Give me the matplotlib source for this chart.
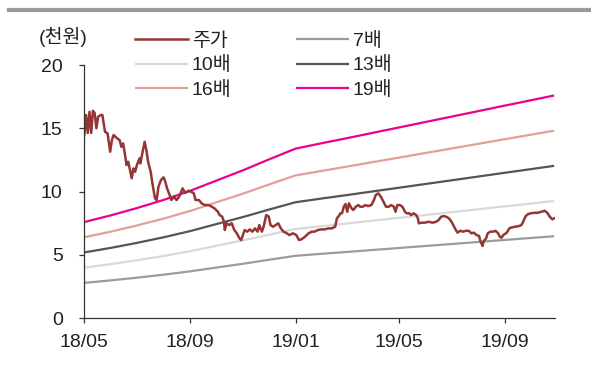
import matplotlib
matplotlib.use('Agg')
import matplotlib.pyplot as plt
import pandas as pd
from matplotlib.lines import Line2D

plt.rcParams['font.family'] = ['Liberation Sans', 'Noto Sans CJK KR']

# Share price (thousand won), keyed by days since 2018-05-01
start = pd.Timestamp('2018-05-01')
price_day = [
    0, 2, 4, 6, 8, 10, 12, 14, 16, 19, 21, 24, 27, 30, 32, 34, 38, 41, 43, 45,
    47, 49, 51, 53, 55, 57, 59, 61, 64, 65, 68, 70, 72, 74, 77, 79, 82, 84, 86, 89,
    92, 94, 96, 99, 101, 104, 107, 110, 114, 117, 121, 124, 127, 129, 133, 136, 140, 144, 148, 151,
    155, 157, 160, 162, 163, 165, 168, 171, 174, 177, 180, 182, 184, 186, 189, 192, 195, 198, 201, 203,
    206, 208, 211, 214, 216, 219, 222, 225, 228, 231, 235, 238, 242, 246, 249, 252, 256, 260, 264, 267,
    271, 275, 279, 283, 287, 291, 293, 296, 297, 299, 301, 303, 305, 307, 310, 312, 315, 318, 320, 323,
    326, 329, 333, 336, 338, 341, 344, 346, 348, 350, 353, 356, 359, 361, 363, 366, 369, 372, 374, 377,
    379, 382, 385, 387, 388, 391, 395, 399, 401, 404, 408, 411, 414, 417, 420, 423, 426, 428, 431, 433,
    436, 439, 443, 446, 449, 452, 455, 458, 459, 462, 463, 466, 468, 471, 474, 477, 480, 482, 484, 486,
    490, 493, 496, 500, 504, 507, 509, 512, 515, 518, 522, 526, 530, 534, 537, 540, 543, 545,
]
price = [
    14.47, 16.05, 14.63, 16.31, 14.63, 16.39, 16.20, 15.01, 15.91, 16.05, 16.05, 14.73, 14.60, 13.15, 14.07, 14.47, 14.21, 14.07, 13.54, 13.81,
    13.02, 12.10, 12.36, 11.71, 11.05, 11.84, 11.57, 12.10, 12.63, 12.23, 13.28, 13.94, 13.28, 12.36, 11.57, 10.66, 9.47, 9.34, 10.39, 10.92,
    11.13, 10.78, 10.26, 9.73, 9.34, 9.60, 9.34, 9.60, 10.26, 9.91, 10.07, 9.99, 9.87, 9.34, 9.34, 9.08, 8.94, 8.94, 8.81, 8.68,
    8.41, 8.15, 8.02, 7.62, 6.97, 7.50, 7.36, 7.50, 6.97, 6.71, 6.31, 6.18, 6.57, 6.97, 6.84, 7.02, 6.84, 7.10, 6.84, 7.36,
    6.84, 7.23, 8.15, 8.02, 7.36, 7.23, 7.36, 7.50, 7.10, 6.84, 6.71, 6.57, 6.71, 6.57, 6.18, 6.24, 6.44, 6.71, 6.84, 6.84,
    6.97, 7.02, 7.02, 7.10, 7.10, 7.23, 7.89, 8.15, 8.29, 8.29, 8.81, 9.02, 8.41, 9.08, 8.68, 8.55, 8.81, 8.94, 8.81, 8.81,
    8.94, 8.86, 8.94, 9.34, 9.73, 9.87, 9.60, 9.34, 9.08, 8.81, 8.81, 8.94, 8.81, 8.41, 8.94, 8.94, 8.81, 8.41, 8.29, 8.29,
    8.15, 8.29, 8.15, 7.89, 7.50, 7.55, 7.55, 7.62, 7.60, 7.55, 7.62, 7.76, 8.02, 8.07, 8.02, 7.89, 7.62, 7.36, 6.97, 6.76,
    6.91, 6.84, 6.91, 6.91, 6.71, 6.76, 6.57, 6.50, 6.18, 5.71, 6.05, 6.31, 6.71, 6.84, 6.84, 6.91, 6.71, 6.44, 6.36, 6.57,
    6.76, 7.10, 7.18, 7.23, 7.28, 7.36, 7.62, 8.07, 8.23, 8.29, 8.33, 8.33, 8.41, 8.49, 8.33, 8.02, 7.81, 7.89,
]

# Forward EPS (thousand won) used for the PER bands
eps_date = [
    '2018-05-01', '2018-06-01', '2018-07-01', '2018-08-01', '2018-09-01', '2018-10-01',
    '2018-11-01', '2018-12-01', '2019-01-01', '2019-02-01', '2019-03-01', '2019-04-01',
    '2019-05-01', '2019-06-01', '2019-07-01', '2019-08-01', '2019-09-01', '2019-10-01',
    '2019-10-28',
]
eps = [
    0.400, 0.428, 0.458, 0.492, 0.530, 0.572,
    0.615, 0.660, 0.705, 0.728, 0.748, 0.771,
    0.793, 0.816, 0.838, 0.861, 0.884, 0.906,
    0.926,
]
multiples = [7, 10, 13, 16, 19]
band_labels = ['7배', '10배', '13배', '16배', '19배']
band_colors = ['#9B9B9B', '#D9D9D9', '#555555', '#E2A09B', '#EC008C']

tick_dates = ['2018-05-01', '2018-09-01', '2019-01-01', '2019-05-01', '2019-09-01']
tick_labels = ['18/05', '18/09', '19/01', '19/05', '19/09']
y_ticks = [0, 5, 10, 15, 20]

W, H = 591, 372
fig = plt.figure(figsize=(W / 100, H / 100), dpi=100)
ax = fig.add_axes([84.3 / W, 1 - 318.3 / H, (555 - 84.3) / W, (318.3 - 65) / H])

price_dates = start + pd.to_timedelta(price_day, unit='D')
band_dates = pd.to_datetime(eps_date)

handles = {}
for m, lab, col in zip(multiples, band_labels, band_colors):
    ln, = ax.plot(band_dates, [m * e for e in eps], color=col, lw=1.6,
                  solid_capstyle='butt', label=lab)
    handles[lab] = ln
pl, = ax.plot(price_dates, price, color='#943634', lw=1.8, label='주가')
handles['주가'] = pl

ax.set_ylim(0, 20)
ax.set_xlim(pd.Timestamp('2018-05-01'), pd.Timestamp('2019-10-29'))
ax.set_yticks(y_ticks)
ax.set_xticks(pd.to_datetime(tick_dates))
ax.set_xticklabels(tick_labels)

for s in ['top', 'right']:
    ax.spines[s].set_visible(False)
for s in ['left', 'bottom']:
    ax.spines[s].set_color('#333333')
    ax.spines[s].set_linewidth(0.9)

ax.tick_params(axis='both', direction='out', length=3.6, width=0.9,
               color='#333333', labelsize=14, labelcolor='#222222')
ax.tick_params(axis='y', pad=12)
ax.tick_params(axis='x', pad=8)

order = ['주가', '10배', '16배', '7배', '13배', '19배']
leg = ax.legend([handles[k] for k in order], order, ncol=2, frameon=False,
                loc='upper left', bbox_to_anchor=(135 / W, 1 - 32 / H),
                bbox_transform=fig.transFigure, fontsize=14,
                handlelength=2.73, handletextpad=0.2, columnspacing=3.3,
                labelspacing=0.33, borderpad=0, borderaxespad=0)
for t in leg.get_texts():
    t.set_color('#222222')

fig.text(63 / W, 1 - 37 / H, '(천원)', ha='center', va='center',
         fontsize=14, color='#222222')

# grey rule across the top of the figure
fig.add_artist(Line2D([9 / W, 1.0], [1 - 10.3 / H] * 2, transform=fig.transFigure,
                      color='#9B9B9B', lw=3))

fig.savefig('out.png', dpi=100)
